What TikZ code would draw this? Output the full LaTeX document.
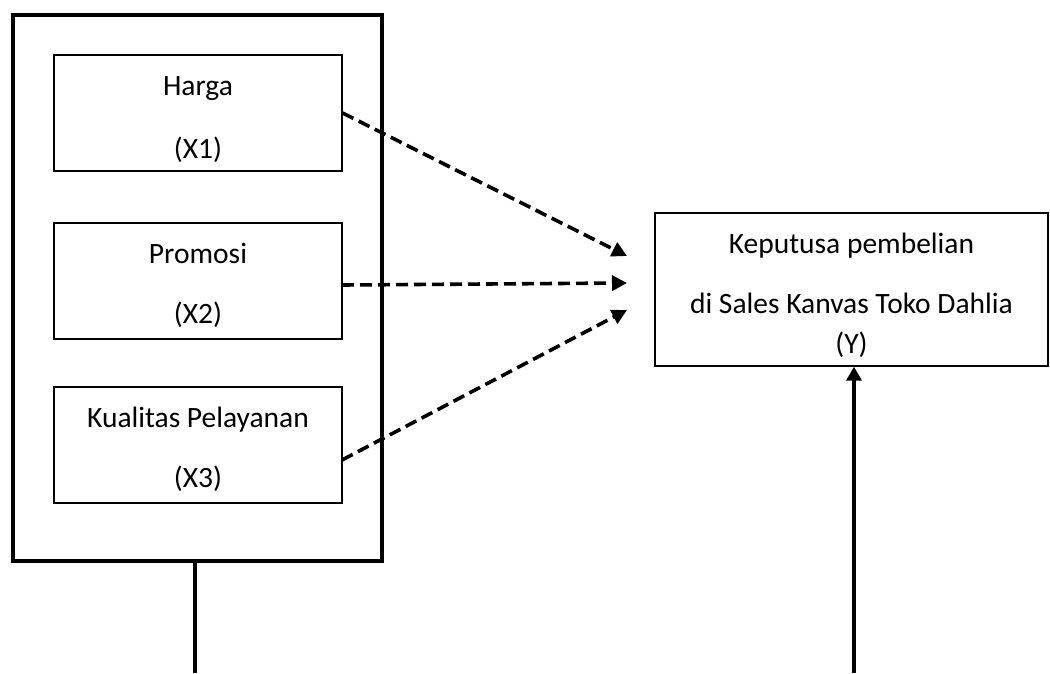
\documentclass[tikz,border=0pt]{standalone}
\usepackage{fontspec}
\setmainfont{Carlito}
\usetikzlibrary{arrows.meta}
\begin{document}
\begin{tikzpicture}[x=1pt,y=-1pt,
  outerbox/.style={draw, line width=3.8pt},
  inbox/.style={draw, line width=1.2pt, minimum width=288pt, minimum height=116pt, inner sep=0pt},
  ybox/.style={draw, line width=1.3pt, minimum width=393pt, minimum height=153pt, inner sep=0pt},
  lbl/.style={font=\fontsize{29.5}{34}\selectfont, inner sep=0pt, anchor=base},
  dasharrow/.style={line width=3.6pt, dash pattern=on 12pt off 6pt, -{Triangle[length=15pt,width=15pt]}},
  solidarrow/.style={line width=3.4pt, -{Triangle[length=14pt,width=15pt]}},
  plainline/.style={line width=3.4pt}
]
\useasboundingbox (0,0) rectangle (1050,673);
% outer frame
\node[outerbox, minimum width=369pt, minimum height=546pt, inner sep=0pt] (outer) at (197.5,288) {};
% inner boxes
\node[inbox] (h) at (198,113) {};
\node[inbox] (p) at (198,281) {};
\node[inbox] (k) at (198,445) {};
% Y box
\node[ybox] (y) at (851.5,289.5) {};
% labels
\node[lbl] (hl1) at (198,95) {Harga};
\node[lbl] (hl2) at (198,158) {(X1)};
\node[lbl] (pl1) at (198,263) {Promosi};
\node[lbl] (pl2) at (198,323) {(X2)};
\node[lbl] (kl1) at (198,427) {Kualitas Pelayanan};
\node[lbl] (kl2) at (198,487) {(X3)};
\node[lbl] (yl1) at (851.5,253) {Keputusa pembelian};
\node[lbl] (yl2) at (851.5,313) {di Sales Kanvas Toko Dahlia};
\node[lbl] (yl3) at (851.5,353) {(Y)};
% coordinates
\coordinate (ps) at (342,285);
\coordinate (ks) at (342,460);
\coordinate (t1) at (627,256);
\coordinate (t2) at (627,283);
\coordinate (t3) at (627,310);
\coordinate (bl) at (195,673);
\coordinate (br) at (854,673);
% connectors
\draw[dasharrow] (h.east) -- (t1);
\draw[dasharrow] (ps) -- (t2);
\draw[dasharrow] (ks) -- (t3);
\draw[plainline] (outer.south -| bl) -- (bl);
\draw[solidarrow] (br) -- (y.south -| br);
\end{tikzpicture}
\end{document}
